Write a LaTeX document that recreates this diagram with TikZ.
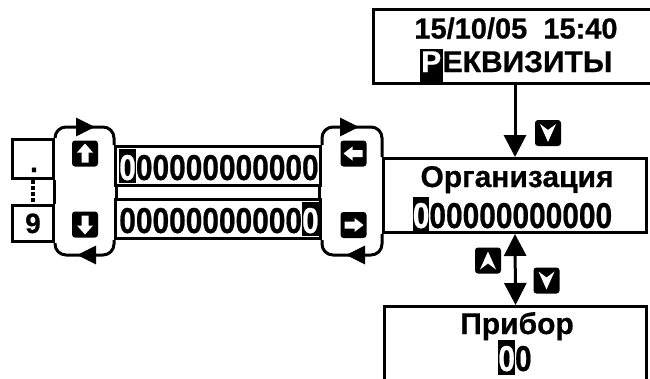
\documentclass[tikz,border=0pt]{standalone}
\usepackage{fontspec}
\setmainfont{Liberation Sans}
\newfontfamily\lcdfont{Liberation Sans}[FakeBold=0.6]
\newfontfamily\digfont{Liberation Sans}[FakeStretch=0.83,FakeBold=0.6]
\usetikzlibrary{arrows.meta}
\newcommand\hlbox[3]{{\setlength{\fboxsep}{0pt}\colorbox{black}{\rule[-#2]{0pt}{\dimexpr #1+#2\relax}\textcolor{white}{#3}}}}
\newcommand\hlpad[3]{{\setlength{\fboxsep}{0pt}\colorbox{black}{\rule[-#2]{0pt}{\dimexpr #1+#2\relax}\kern1.5pt\textcolor{white}{#3}\kern1.5pt}}}
\begin{document}
\begin{tikzpicture}[x=1pt,y=-1pt,
  box/.style={draw, line width=3pt, inner sep=0pt},
  txt/.style={inner sep=0pt, anchor=base},
  lbl/.style={font=\lcdfont\bfseries\fontsize{30}{30}\selectfont},
  dig/.style={font=\digfont\bfseries\fontsize{36}{36}\selectfont},
  conn/.style={line width=3pt, rounded corners=11pt},
  bigtip/.style={-{Triangle[length=22pt,width=22pt]}},
  looptip/.style={-{Triangle[length=19pt,width=18pt]}},
  keybox/.style={fill=black, rounded corners=3pt, minimum width=26pt, minimum height=26pt, inner sep=0pt},
]
\useasboundingbox (0,0) rectangle (650,378);

% boxes
\node[box, minimum width=287pt, minimum height=74pt] (datebox) at (517,46.5) {};
\node[box, minimum width=263pt, minimum height=74pt] (orgbox) at (515,195.5) {};
\node[box, minimum width=262pt, minimum height=94pt] (pribox) at (515.5,353.5) {};
\node[box, minimum width=41pt, minimum height=39pt] (dotbox) at (33,159) {};
\node[box, minimum width=41pt, minimum height=36pt] (ninebox) at (33,223.5) {};
\node[box, minimum width=205pt, minimum height=39pt] (topnum) at (218,166) {};
\node[box, minimum width=205pt, minimum height=39pt] (botnum) at (218,219) {};

% helper coordinates
\coordinate (ytop) at (0,127);
\coordinate (ybot) at (0,255);
\coordinate (la) at (95,127);
\coordinate (lb) at (80,127);
\coordinate (ra) at (359,127);
\coordinate (rb) at (344,127);
\coordinate (lc) at (77,255);
\coordinate (ld) at (92,255);
\coordinate (rc) at (346,255);
\coordinate (rd) at (361,255);

% connectors between the small boxes
\draw[line width=4pt, dash pattern=on 4pt off 2pt] (dotbox.south) -- (ninebox.north);
\draw[line width=3pt] ([xshift=-1pt]dotbox.south east) -- ([xshift=-1pt]ninebox.north east);
\draw[line width=3pt] ([xshift=2.5pt]topnum.south west) -- ([xshift=2.5pt]botnum.north west);
\draw[line width=3pt] ([xshift=-2.5pt]topnum.south east) -- ([xshift=-2.5pt]botnum.north east);

% left loop
\draw[conn, looptip] (dotbox.north east) -- (dotbox.north east |- ytop) -- (la);
\draw[conn] (lb) -- (topnum.north west |- ytop) -- (topnum.north west);
\draw[conn, looptip] (botnum.south west) -- (botnum.south west |- ybot) -- (lc);
\draw[conn] (ld) -- (ninebox.south east |- ybot) -- (ninebox.south east);

% right loop
\draw[conn, looptip] (topnum.north east) -- (topnum.north east |- ytop) -- (ra);
\draw[conn] (rb) -- (orgbox.north west |- ytop) -- (orgbox.north west);
\draw[conn, looptip] (orgbox.south west) -- (orgbox.south west |- ybot) -- (rc);
\draw[conn] (rd) -- (botnum.south east |- ybot) -- (botnum.south east);

% vertical arrows
\draw[line width=3pt, bigtip] (orgbox.north |- datebox.south) -- (orgbox.north);
\draw[line width=3pt, {Triangle[length=22pt,width=22pt]}-{Triangle[length=22pt,width=22pt]}] (orgbox.south) -- (pribox.north);

% keys
\node[keybox] (kup) at (85,153.5) {};
\begin{scope}[shift={(kup.center)}]
  \fill[white] (0,-10) -- (8,-1) -- (3.5,-1) -- (3.5,9) -- (-3.5,9) -- (-3.5,-1) -- (-8,-1) -- cycle;
\end{scope}
\node[keybox] (kdown) at (85,224.5) {};
\begin{scope}[shift={(kdown.center)}]
  \fill[white] (0,10) -- (8,1) -- (3.5,1) -- (3.5,-9) -- (-3.5,-9) -- (-3.5,1) -- (-8,1) -- cycle;
\end{scope}
\node[keybox] (kleft) at (353.5,153.5) {};
\begin{scope}[shift={(kleft.center)}]
  \fill[white] (-10,0) -- (-1,-7) -- (-1,-3.5) -- (9,-3.5) -- (9,3.5) -- (-1,3.5) -- (-1,7) -- cycle;
\end{scope}
\node[keybox] (kright) at (353.5,225) {};
\begin{scope}[shift={(kright.center)}]
  \fill[white] (10,0) -- (1,-7) -- (1,-3.5) -- (-9,-3.5) -- (-9,3.5) -- (1,3.5) -- (1,7) -- cycle;
\end{scope}
\node[keybox] (kch1) at (548,133) {};
\begin{scope}[shift={(kch1.center)}]
  \fill[white] (-8,-9) -- (0,-3) -- (8,-9) -- (0,9) -- cycle;
\end{scope}
\node[keybox] (kch2) at (488,260.5) {};
\begin{scope}[shift={(kch2.center)}]
  \fill[white] (-8,9) -- (0,3) -- (8,9) -- (0,-9) -- cycle;
\end{scope}
\node[keybox] (kch3) at (546.5,280.5) {};
\begin{scope}[shift={(kch3.center)}]
  \fill[white] (-8,-9) -- (0,-3) -- (8,-9) -- (0,9) -- cycle;
\end{scope}

% texts
\node[txt, font=\lcdfont\bfseries\fontsize{29}{29}\selectfont] (datetxt) at (516,38.5) {15/10/05\ \ 15:40};
\node[txt, lbl] (reqtxt) at (516,72) {\hlpad{23pt}{10pt}{Р}ЕКВИЗИТЫ};
\node[txt, lbl] (orgtxt) at (517,187) {Организация};
\node[txt, dig] (orgnum) at (512.5,228) {\hlbox{31pt}{3pt}{0}00000000000};
\node[txt, dig] (numtoptxt) at (219,180) {\hlbox{31pt}{3pt}{0}00000000000};
\node[txt, dig] (numbottxt) at (219,233) {00000000000\hlbox{31pt}{3pt}{0}};
\node[txt, lbl] (pritxt) at (517,334) {Прибор};
\node[txt, dig] (prinum) at (515,371) {\hlbox{31pt}{4pt}{0}0};
\node[txt, font=\lcdfont\bfseries\fontsize{28}{28}\selectfont] (dottxt) at (34,172) {.};
\node[txt, font=\lcdfont\bfseries\fontsize{28}{28}\selectfont] (ninetxt) at (33,233) {9};
\end{tikzpicture}
\end{document}
